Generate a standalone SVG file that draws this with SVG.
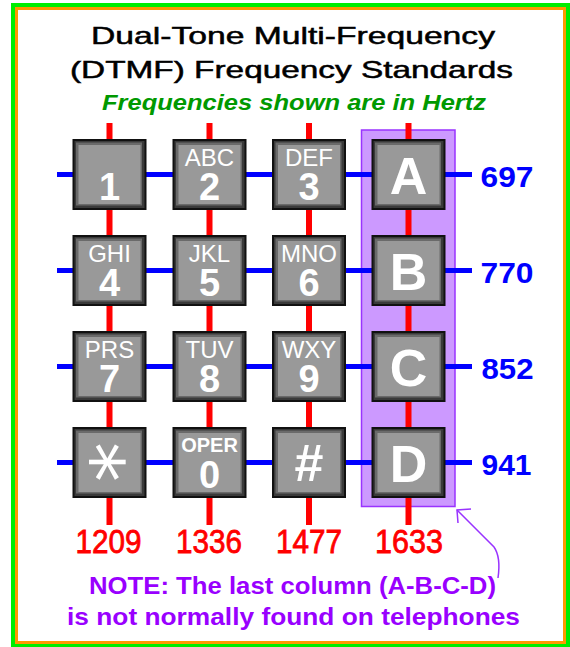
<svg xmlns="http://www.w3.org/2000/svg" xmlns:xlink="http://www.w3.org/1999/xlink" width="570" height="647" viewBox="0 0 570 647">
<style>
.t{font-family:"Liberation Sans",Arial,sans-serif}
.title{font-size:24px;fill:#000;stroke:#000;stroke-width:0.5}
.sub{font-size:22px;fill:#009900;font-weight:bold;font-style:italic}
.let{font-size:24px;fill:#fff;text-anchor:middle}
.dig{font-size:38px;fill:#fff;font-weight:bold;text-anchor:middle}
.big{font-size:52px;fill:#fff;font-weight:bold;text-anchor:middle}
.row{font-size:30px;fill:#0000ff;font-weight:bold}
.col{font-size:33px;fill:#ff0000;stroke:#ff0000;stroke-width:0.8;text-anchor:middle}
.note{font-size:24px;fill:#9900ff;font-weight:bold}
.vl{stroke:#ff0000;stroke-width:6}
.hl{stroke:#0000ff;stroke-width:5}
</style>
<defs>
<g id="kb">
<rect x="0" y="0" width="74" height="71" fill="#111"/>
<rect x="2" y="2" width="70" height="67" fill="#3a3a3a"/>
<rect x="3.5" y="3.5" width="66" height="63" fill="#6a6a6a"/>
<rect x="6" y="6" width="62" height="59" fill="#999"/>
</g>
</defs>
<rect x="11" y="3" width="559" height="644" fill="#00ee00"/>
<rect x="15" y="7" width="551" height="637" fill="#ff9900"/>
<rect x="18" y="10" width="545" height="631" fill="#fff"/>
<g id="title" class="t">
<text class="title" x="91" y="43.5" textLength="404" lengthAdjust="spacingAndGlyphs">Dual-Tone Multi-Frequency</text>
<text class="title" x="70" y="78" textLength="443" lengthAdjust="spacingAndGlyphs">(DTMF) Frequency Standards</text>
<text class="sub" x="102" y="110" textLength="384" lengthAdjust="spacingAndGlyphs">Frequencies shown are in Hertz</text>
</g>
<rect id="highlight" x="361.5" y="130" width="93.5" height="376.5" fill="#cc99ff" stroke="#9933ff" stroke-width="1.5"/>
<g id="connectors">
<line class="vl" x1="109.5" y1="123" x2="109.5" y2="525"/>
<line class="vl" x1="209.5" y1="123" x2="209.5" y2="525"/>
<line class="vl" x1="309" y1="123" x2="309" y2="525"/>
<line class="vl" x1="408.5" y1="123" x2="408.5" y2="525"/>
<line class="hl" x1="57" y1="174.5" x2="472" y2="174.5"/>
<line class="hl" x1="57" y1="270.5" x2="472" y2="270.5"/>
<line class="hl" x1="57" y1="366.5" x2="472" y2="366.5"/>
<line class="hl" x1="57" y1="462.5" x2="472" y2="462.5"/>
<path d="M457 510 L494 547 Q501 557 498 578" fill="none" stroke="#9933ff" stroke-width="1.5"/>
<path d="M471 509 L457 510 L458 523" fill="none" stroke="#9933ff" stroke-width="1.5"/>
</g>
<g class="t">
<g id="key1"><use xlink:href="#kb" x="72.5" y="139"/><text class="dig" x="109.5" y="200">1</text></g>
<g id="key2"><use xlink:href="#kb" x="172.5" y="139"/><text class="let" x="209.5" y="166">ABC</text><text class="dig" x="209.5" y="200">2</text></g>
<g id="key3"><use xlink:href="#kb" x="272" y="139"/><text class="let" x="309" y="166">DEF</text><text class="dig" x="309" y="200">3</text></g>
<g id="keyA"><use xlink:href="#kb" x="371.5" y="139"/><text class="big" x="408.5" y="194">A</text></g>
<g id="key4"><use xlink:href="#kb" x="72.5" y="235"/><text class="let" x="109.5" y="262">GHI</text><text class="dig" x="109.5" y="296">4</text></g>
<g id="key5"><use xlink:href="#kb" x="172.5" y="235"/><text class="let" x="209.5" y="262">JKL</text><text class="dig" x="209.5" y="296">5</text></g>
<g id="key6"><use xlink:href="#kb" x="272" y="235"/><text class="let" x="309" y="262">MNO</text><text class="dig" x="309" y="296">6</text></g>
<g id="keyB"><use xlink:href="#kb" x="371.5" y="235"/><text class="big" x="408.5" y="290">B</text></g>
<g id="key7"><use xlink:href="#kb" x="72.5" y="331"/><text class="let" x="109.5" y="358">PRS</text><text class="dig" x="109.5" y="392">7</text></g>
<g id="key8"><use xlink:href="#kb" x="172.5" y="331"/><text class="let" x="209.5" y="358">TUV</text><text class="dig" x="209.5" y="392">8</text></g>
<g id="key9"><use xlink:href="#kb" x="272" y="331"/><text class="let" x="309" y="358">WXY</text><text class="dig" x="309" y="392">9</text></g>
<g id="keyC"><use xlink:href="#kb" x="371.5" y="331"/><text class="big" x="408.5" y="386">C</text></g>
<g id="keyStar"><use xlink:href="#kb" x="72.5" y="427"/><text transform="translate(109.5,462) rotate(90)" x="0" y="44" style="font-family:'DejaVu Sans',sans-serif;font-size:80px;fill:#fff;text-anchor:middle">*</text></g>
<g id="key0"><use xlink:href="#kb" x="172.5" y="427"/><text class="let" x="209.5" y="452" style="font-size:20px;font-weight:bold">OPER</text><text class="dig" x="209.5" y="488">0</text></g>
<g id="keyHash"><use xlink:href="#kb" x="272" y="427"/><text class="dig" x="309" y="481" style="font-size:52px">#</text></g>
<g id="keyD"><use xlink:href="#kb" x="371.5" y="427"/><text class="big" x="408.5" y="482">D</text></g>
</g>
<g id="rowLabels" class="t">
<text class="row" x="480.5" y="186.5" textLength="53" lengthAdjust="spacingAndGlyphs">697</text>
<text class="row" x="480.5" y="282.5" textLength="53" lengthAdjust="spacingAndGlyphs">770</text>
<text class="row" x="481.5" y="378.5" textLength="52" lengthAdjust="spacingAndGlyphs">852</text>
<text class="row" x="481.5" y="474.5" textLength="50" lengthAdjust="spacingAndGlyphs">941</text>
</g>
<g id="colLabels" class="t">
<text class="col" x="108.5" y="553" textLength="66" lengthAdjust="spacingAndGlyphs">1209</text>
<text class="col" x="209" y="553" textLength="66" lengthAdjust="spacingAndGlyphs">1336</text>
<text class="col" x="309" y="553" textLength="66" lengthAdjust="spacingAndGlyphs">1477</text>
<text class="col" x="409" y="553" textLength="68" lengthAdjust="spacingAndGlyphs">1633</text>
</g>
<g id="note" class="t">
<text class="note" x="89" y="594" textLength="407" lengthAdjust="spacingAndGlyphs">NOTE: The last column (A-B-C-D)</text>
<text class="note" x="67" y="625" textLength="453" lengthAdjust="spacingAndGlyphs">is not normally found on telephones</text>
</g>
</svg>
